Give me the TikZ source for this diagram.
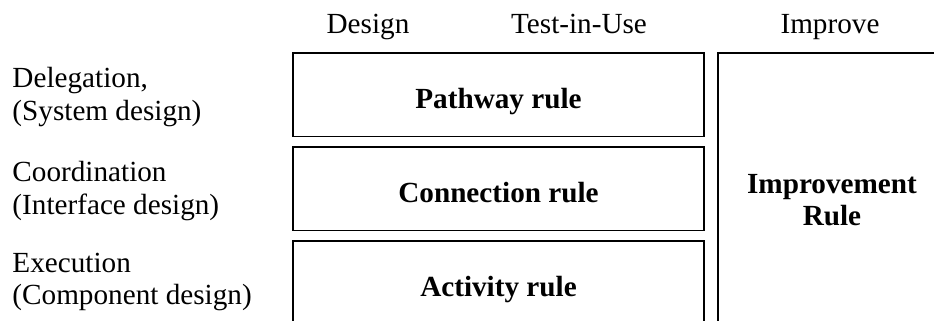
\documentclass[tikz,border=0pt]{standalone}
\usepackage{fontspec}
\setmainfont{Liberation Serif}

\begin{document}
\begin{tikzpicture}[x=0.411pt,y=-0.411pt,
    font=\fontsize{12}{13.2}\selectfont,
    rulebox/.style={draw,line width=0.8pt,inner sep=0pt,
        font=\fontsize{12}{13.2}\selectfont\bfseries,align=center},
    rowlabel/.style={anchor=west,align=left,inner sep=0pt},
    colhead/.style={anchor=base,inner sep=0pt}]
    % Pixelmass
    \def\s{0.411pt}

    % Bildrand
    \clip (0,0) rectangle (934,320);
    \useasboundingbox (0,0) rectangle (934,320);

    % Spaltenkoepfe
    \node[colhead] (design) at (368,33) {Design};
    \node[colhead] (testinuse) at (579,33) {Test-in-Use};
    \node[colhead] (improve) at (830,33) {Improve};

    % Zeilenbeschriftung
    \node[rowlabel] (delegation) at (12,97) {Delegation,\\(System design)};
    \node[rowlabel] (coordination) at (12,191) {Coordination\\(Interface design)};
    \node[rowlabel] (execution) at (12,282) {Execution\\(Component design)};

    % Regelkaesten
    \foreach \name/\txt [count=\i from 0] in {pathway/Pathway rule,connection/Connection rule,activity/Activity rule} {
        \node[rulebox,minimum width=411*\s,minimum height=83.5*\s,
              text height=11.5pt,text depth=0.4pt] (\name) at (498.5,94.75+\i*94) {\txt};
    }
    \node[rulebox,minimum width=228*\s,minimum height=294*\s] (improvement) at (832,200) {Improvement\\Rule};
\end{tikzpicture}
\end{document}
